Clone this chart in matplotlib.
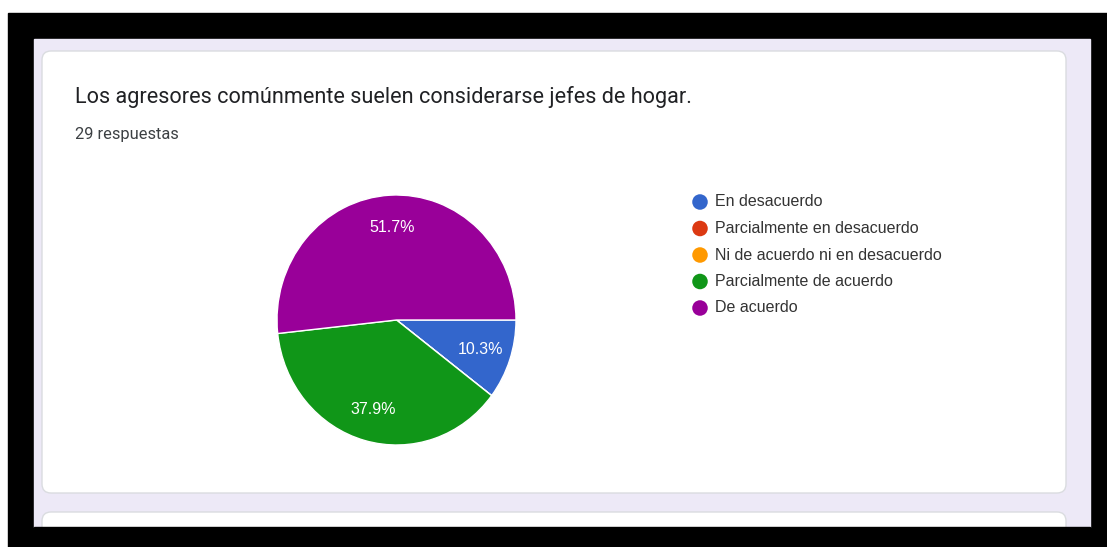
import matplotlib
matplotlib.use("Agg")
import matplotlib.pyplot as plt
from matplotlib.patches import Rectangle, FancyBboxPatch
import numpy as np

# survey answers (29 responses)
categories = ["En desacuerdo", "Parcialmente en desacuerdo",
              "Ni de acuerdo ni en desacuerdo", "Parcialmente de acuerdo",
              "De acuerdo"]
counts = [3, 0, 0, 11, 15]
colors = ["#3366cc", "#dc3912", "#ff9900", "#109618", "#990099"]

title = "Los agresores comúnmente suelen considerarse jefes de hogar."
subtitle = "%d respuestas" % sum(counts)

W, H = 1107, 547
fig = plt.figure(figsize=(W / 100, H / 100), dpi=100)
fig.patch.set_facecolor("white")

# page background in pixel coordinates
bg = fig.add_axes([0, 0, 1, 1])
bg.set_xlim(0, W)
bg.set_ylim(H, 0)
bg.axis("off")

bg.add_patch(Rectangle((8, 13), W - 8, H - 13, color="black", zorder=0))
bg.add_patch(Rectangle((34, 39), 1090 - 34, 527 - 39, color="#ede9f7", zorder=1))
for top, bottom in [(51, 493), (512, 560)]:
    bg.add_patch(FancyBboxPatch((42, top), 1066 - 42, bottom - top,
                                boxstyle="round,pad=0,rounding_size=9",
                                facecolor="white", edgecolor="#dadce0",
                                linewidth=1, zorder=2))
# cut the lower card at the border
bg.add_patch(Rectangle((34, 527), 1090 - 34, 30, color="black", zorder=3))

bg.text(75, 97, title, fontsize=15.6, family="Roboto", color="#202124",
        va="center", ha="left", zorder=4)
bg.text(75, 134, subtitle, fontsize=11.8, family="Roboto", color="#3c4043",
        va="center", ha="left", zorder=4)

# legend
leg_y = 202 + 26.5 * np.arange(len(categories))
bg.scatter(np.full(len(categories), 700), leg_y, s=125, c=colors,
           edgecolors="none", zorder=4)
for y, lab in zip(leg_y, categories):
    bg.text(715, y, lab, fontsize=11.5, family="Liberation Sans", color="#333333",
            va="center", ha="left", zorder=4)

# pie
cx, cy, rx, ry = 396.5, 320, 119.5, 125
pie_ax = fig.add_axes([(cx - rx) / W, 1 - (cy + ry) / H, 2 * rx / W, 2 * ry / H])
pie_ax.set_zorder(5)


def pct(p):
    return "%.1f%%" % p if p > 0 else ""


wedges, texts, autotexts = pie_ax.pie(
    counts, colors=colors, startangle=0, counterclock=False,
    autopct=pct, pctdistance=0.74,
    wedgeprops=dict(edgecolor="white", linewidth=1),
    textprops=dict(color="white", fontsize=11.5, family="Liberation Sans"))
pie_ax.set_aspect("auto")
pie_ax.set_xlim(-1, 1)
pie_ax.set_ylim(-1, 1)
pie_ax.axis("off")

fig.savefig("out.png", dpi=100)
